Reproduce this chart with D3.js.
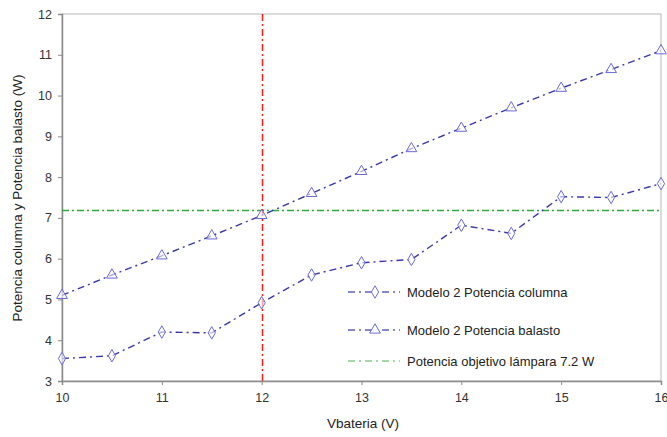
<!DOCTYPE html>
<html><head><meta charset="utf-8">
<script src="https://cdn.jsdelivr.net/npm/d3@7"></script>
<style>body{margin:0;background:#fff}svg{display:block}text{font-family:"Liberation Sans",Arial,sans-serif}</style>
</head><body><svg id="c" width="667" height="437"></svg>
<script>
const vbat = [10,10.5,11,11.5,12,12.5,13,13.5,14,14.5,15,15.5,16];
const potColumna = [3.55,3.62,4.2,4.18,4.92,5.6,5.9,5.98,6.82,6.62,7.52,7.5,7.84];
const potBalasto = [5.1,5.6,6.07,6.56,7.06,7.6,8.14,8.7,9.2,9.7,10.18,10.64,11.1];
const objetivo = 7.2;
const vRef = 12;
const xTicks = [10,11,12,13,14,15,16];
const yTicks = [3,4,5,6,7,8,9,10,11,12];
const legendLabels = ["Modelo 2 Potencia columna","Modelo 2 Potencia balasto","Potencia objetivo lámpara 7.2 W"];

const svg = d3.select("#c");
const L=62,R=661,T=14,B=381;
const x = d3.scaleLinear().domain([10,16]).range([L,R]);
const y = d3.scaleLinear().domain([3,12]).range([B,T]);

svg.append("rect").attr("x",L).attr("y",T).attr("width",R-L).attr("height",B-T)
  .attr("fill","none").attr("stroke","#cfcfcf").attr("stroke-width",1.5);

const ax = svg.append("g").attr("transform",`translate(0,${B})`)
  .call(d3.axisBottom(x).tickValues(xTicks).tickSize(4).tickPadding(8).tickFormat(d3.format("d")));
const ay = svg.append("g").attr("transform",`translate(${L},0)`)
  .call(d3.axisLeft(y).tickValues(yTicks).tickSize(4).tickPadding(6).tickFormat(d3.format("d")));
[ax,ay].forEach(a=>{
  a.select(".domain").attr("stroke","#8a8a8a").attr("stroke-width",1.5);
  a.selectAll(".tick line").attr("stroke","#8a8a8a");
  a.selectAll("text").attr("fill","#333").style("font-size","12.5px");
});

svg.append("line").attr("x1",L).attr("x2",R).attr("y1",Math.round(y(objetivo))+0.5).attr("y2",Math.round(y(objetivo))+0.5)
  .attr("stroke","#2eab3c").attr("stroke-width",1.3).attr("stroke-dasharray","7,3,2,3");
const xr = Math.round(x(vRef))+0.5;
svg.append("line").attr("x1",xr).attr("x2",xr).attr("y1",T).attr("y2",B)
  .attr("stroke","#ff1a1a").attr("stroke-width",1.5).attr("stroke-dasharray","7,3,2,3");

const line = d3.line().x(d=>x(d[0])).y(d=>y(d[1]));
const lineCol = "#3838a8", markCol = "#6a6ad8";
function series(vals, shape){
  const pts = vbat.map((v,i)=>[v,vals[i]]);
  svg.append("path").datum(pts).attr("d",line).attr("fill","none")
    .attr("stroke",lineCol).attr("stroke-width",1.4).attr("stroke-dasharray","7,4,2,4");
  svg.selectAll(null).data(pts).enter().append("path")
    .attr("transform",d=>`translate(${x(d[0])},${y(d[1])})`)
    .attr("d",d3.symbol().type(shape).size(shape===d3.symbolDiamond?45:50))
    .attr("fill","#fff").attr("fill-opacity",0.6).attr("stroke",markCol).attr("stroke-width",1);
}
series(potColumna, d3.symbolDiamond);
series(potBalasto, d3.symbolTriangle);

const ly=[292,330,361];
legendLabels.forEach((t,i)=>{
  const g = svg.append("g");
  g.append("line").attr("x1",348).attr("x2",400).attr("y1",ly[i]).attr("y2",ly[i])
    .attr("stroke",i<2?lineCol:"#2eab3c").attr("stroke-width",1.3).attr("stroke-dasharray","7,4,2,4")
    .attr("stroke-opacity",i<2?0.8:0.6);
  if(i<2){
    g.append("path").attr("transform",`translate(375,${ly[i]})`)
      .attr("d",d3.symbol().type(i===0?d3.symbolDiamond:d3.symbolTriangle).size(i===0?45:50))
      .attr("fill","#fff").attr("stroke",markCol);
  }
  g.append("text").attr("x",407).attr("y",ly[i]).attr("dy","0.35em").attr("fill","#222")
    .style("font-size","13px").text(t);
});

svg.append("text").attr("x",363).attr("y",428).attr("text-anchor","middle").attr("fill","#222")
  .style("font-size","13.5px").text("Vbateria (V)");
svg.append("text").attr("transform","translate(22,198) rotate(-90)").attr("text-anchor","middle").attr("fill","#222")
  .style("font-size","13.5px").text("Potencia columna y Potencia balasto (W)");
</script></body></html>
